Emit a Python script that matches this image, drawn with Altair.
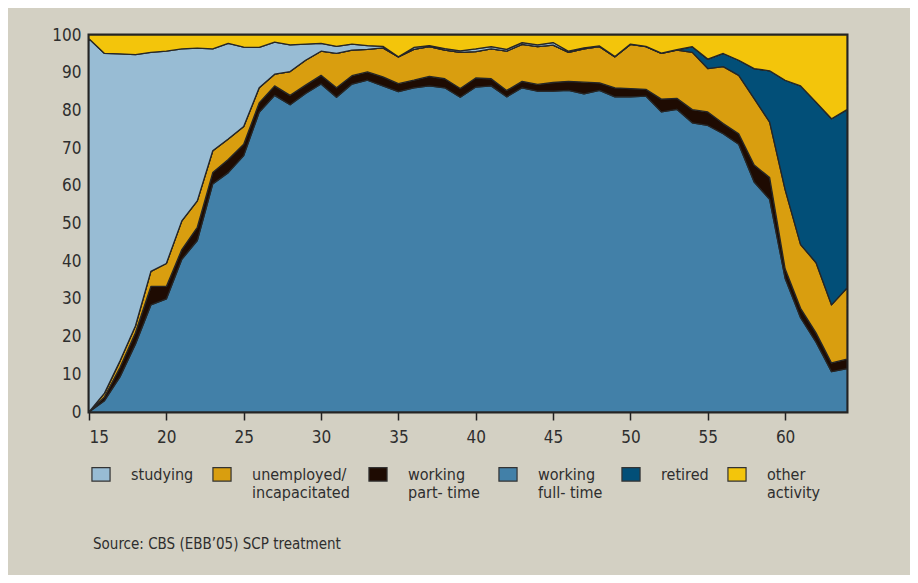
import altair as alt
import pandas as pd

ages = list(range(15, 65))

# values per category (percent of age group)
full_time = [0, 3, 9.3, 18, 28.4, 30, 40.5, 45.5, 60.5, 63.5,
             68, 79.5, 84, 81.5, 84.5, 87, 83.5, 87, 88, 86.5,
             85, 86, 86.5, 86, 83.5, 86.2, 86.5, 83.6, 86, 85.1,
             85.1, 85.3, 84.4, 85.3, 83.6, 83.6, 83.8, 79.6, 80.3, 76.7,
             76, 73.8, 71, 61, 56.4, 35.5, 25, 18.5, 10.7, 11.5]
part_time = [0, 1, 2.5, 3, 4.9, 3.3, 2.6, 3.5, 3, 3.5,
             3, 2.5, 2.5, 2.5, 2.2, 2.3, 2.5, 2.2, 2.2, 2.4,
             2.1, 2, 2.5, 2.4, 2.3, 2.4, 1.9, 1.7, 1.7, 1.8,
             2.3, 2.4, 3.1, 2, 2.4, 2.2, 1.8, 3.4, 2.9, 3.5,
             3.6, 2.7, 2.8, 4.5, 5.8, 2.5, 2.5, 2.5, 2.3, 2.5]
unemployed = [0, 1, 1.7, 1.8, 4.0, 6.1, 7.6, 7, 5.8, 5.4,
              4.7, 4, 3.1, 6.3, 6.6, 6.4, 9.1, 6.8, 6, 7.7,
              7.1, 8.2, 7.9, 7.6, 9.6, 7, 7.9, 10.4, 9.8, 10,
              9.9, 7.7, 8.8, 9.6, 8.2, 11.7, 11.3, 12.1, 12.8, 15.2,
              11.5, 15.1, 15.5, 17.6, 14.7, 21, 16.9, 18.6, 15.4, 18.9]
retired = [0, 0, 0, 0, 0, 0, 0, 0, 0, 0,
           0, 0, 0, 0, 0, 0, 0, 0, 0, 0,
           0, 0, 0, 0, 0, 0, 0, 0, 0, 0,
           0, 0, 0, 0, 0, 0, 0, 0, 0, 1.5,
           2.5, 3.5, 4, 8, 13.6, 29, 42.1, 42.6, 49.4, 47.3]
studying = [99, 90.1, 81.5, 72, 58.1, 56.3, 45.6, 40.5, 27, 25.4,
            21.1, 10.7, 8.5, 7.1, 4.3, 2.1, 1.9, 1.6, 1.0, 0.4,
            0, 0.5, 0.3, 0.4, 0.4, 0.7, 0.6, 0.5, 0.5, 0.5,
            0.7, 0.3, 0.3, 0.2, 0.1, 0.1, 0.1, 0.1, 0.1, 0,
            0, 0, 0, 0, 0, 0, 0, 0, 0, 0]
other = [1, 4.9, 5, 5.2, 4.6, 4.3, 3.7, 3.5, 3.7, 2.2,
         3.2, 3.3, 1.9, 2.6, 2.4, 2.2, 3, 2.4, 2.8, 3,
         5.8, 3.3, 2.8, 3.6, 4.2, 3.7, 3.1, 3.8, 2, 2.6,
         2, 4.3, 3.4, 2.9, 5.7, 2.4, 3, 4.8, 3.9, 3.1,
         6.4, 4.9, 6.7, 8.9, 9.5, 12, 13.5, 17.8, 22.2, 19.8]

# legend order ("|" marks a line break in the legend label)
categories = ["studying|", "unemployed/|incapacitated", "working|part- time",
              "working|full- time", "retired|", "other|activity"]
colors = ["#98bcd4", "#d99e0f", "#1e0b02", "#4280a8", "#024f78", "#f3c50b"]
# stacking order, bottom to top
stack_order = ["working|full- time", "working|part- time", "unemployed/|incapacitated",
               "retired|", "studying|", "other|activity"]
series = {
    "working|full- time": full_time,
    "working|part- time": part_time,
    "unemployed/|incapacitated": unemployed,
    "retired|": retired,
    "studying|": studying,
    "other|activity": other,
}
x_ticks = [15, 20, 25, 30, 35, 40, 45, 50, 55, 60]
y_ticks = [0, 10, 20, 30, 40, 50, 60, 70, 80, 90, 100]
source_text = "Source: CBS (EBB’05) SCP treatment"

rows = []
for cat, vals in series.items():
    for a, v in zip(ages, vals):
        rows.append({"age": a, "category": cat, "value": v, "ord": stack_order.index(cat)})
df = pd.DataFrame(rows)

FONT = "Liberation Sans Narrow, DejaVu Sans Condensed, Arial Narrow, sans-serif"
TXT = "#2e2e2e"

chart = alt.Chart(df).mark_area(
    interpolate="linear", stroke="#262626", strokeWidth=1.3, strokeJoin="round", opacity=1
).encode(
    x=alt.X("age:Q", scale=alt.Scale(domain=[15, 64], nice=False, zero=False),
            axis=alt.Axis(values=x_ticks, title=None, grid=False, domain=False,
                          tickSize=8, tickColor="#222", tickWidth=1.5,
                          labelFontSize=17, labelColor=TXT, labelFont=FONT, labelPadding=9)),
    y=alt.Y("value:Q", stack="zero", scale=alt.Scale(domain=[0, 100], nice=False),
            axis=alt.Axis(values=y_ticks, title=None, grid=False, domain=False, ticks=False,
                          labelFontSize=17, labelColor=TXT, labelFont=FONT, labelPadding=8)),
    color=alt.Color("category:N", scale=alt.Scale(domain=categories, range=colors),
                    legend=alt.Legend(
                        title=source_text, titleOrient="bottom", titleAnchor="start",
                        titleFont=FONT, titleFontSize=15, titleFontWeight="normal",
                        titleColor=TXT, titlePadding=36, titleLimit=600,
                        orient="none", legendX=4, legendY=424, direction="horizontal",
                        columns=6, columnPadding=16,
                        symbolType="M-1.35,0.1L1.35,0.1L1.35,2.1L-1.35,2.1Z",
                        symbolSize=180, symbolStrokeColor="#333", symbolStrokeWidth=1.2,
                        symbolOpacity=1,
                        labelExpr="split(datum.label, '|')",
                        labelFont=FONT, labelFontSize=16, labelColor=TXT,
                        labelOffset=22, labelBaseline="top", labelLimit=300)),
    order=alt.Order("ord:Q", sort="ascending"),
).properties(
    width=758, height=377,
    autosize=alt.AutoSizeParams(type="none"),
    padding={"left": 81, "top": 27, "right": 63, "bottom": 163},
    background="#d3d0c3",
).configure_view(
    fill="white", stroke="#222", strokeWidth=3
)

chart.save("out.html", embed_options={"renderer": "svg", "actions": False})
